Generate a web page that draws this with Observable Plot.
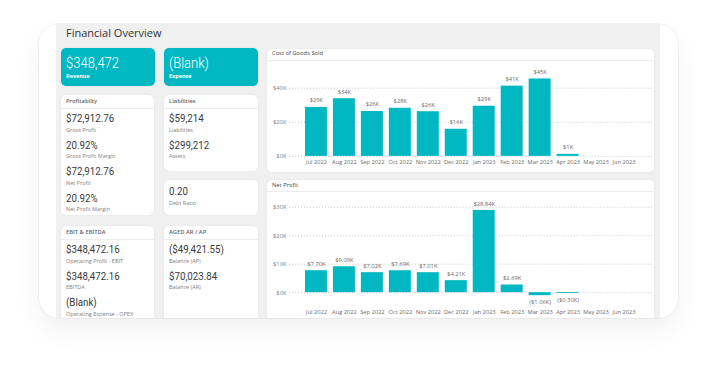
<!DOCTYPE html>
<html><head><meta charset="utf-8">
<script src="https://cdn.jsdelivr.net/npm/d3@7"></script>
<script src="https://cdn.jsdelivr.net/npm/@observablehq/plot@0.6"></script>
<style>
body{margin:0;width:717px;height:375px;background:#fff;position:relative;overflow:hidden;font-family:"Open Sans",sans-serif;}
#frame{position:absolute;left:39px;top:24px;width:639px;height:294px;border-radius:20px;background:#fff;box-shadow:0 0 0 0.7px rgba(0,0,0,0.06),0 12px 26px rgba(0,0,0,0.06);overflow:hidden;}
#panel{position:absolute;left:17px;top:0;width:604px;height:294px;background:#f0f0f0;overflow:hidden;}
.card{position:absolute;background:#fff;border-radius:5px;box-shadow:0 0 2px rgba(0,0,0,0.08);overflow:hidden;}
.teal{background:#01b8c2;}
.t{position:absolute;white-space:nowrap;transform:translateY(-50%);transform-origin:left center;line-height:1;}
.val{font-family:Roboto,sans-serif;font-size:11.3px;color:#3b3a39;transform:translateY(-50%) scaleX(0.86);}
.big{font-family:Roboto,sans-serif;font-weight:300;font-size:15.5px;color:#fff;transform:translateY(-50%) scaleX(0.84);}
.lab{font-size:5.5px;color:#808080;}
.wl{font-size:5.5px;color:#fff;font-weight:700;}
.hdr{font-size:5.8px;font-weight:600;color:#666;}
.chdr{font-size:5.8px;font-weight:500;color:#444;}
.sep{position:absolute;height:1px;background:#ededed;left:0;right:0;}
#title{position:absolute;left:10px;top:8px;font-size:11px;color:#333;transform:translateY(-50%);line-height:1;white-space:nowrap;}
.plot{position:absolute;left:0;}
</style></head>
<body>
<div id="frame"><div id="panel"><div id="title">Financial Overview</div></div></div>
<script>
// ---- data ----
const months = ["Jul 2022","Aug 2022","Sep 2022","Oct 2022","Nov 2022","Dec 2022","Jan 2023","Feb 2023","Mar 2023","Apr 2023","May 2023","Jun 2023"];
const cogsValues = [28700, 33800, 26300, 28200, 26200, 15900, 29400, 41200, 45400, 1200, null, null];
const netProfitValues = [7700, 9090, 7020, 7690, 7010, 4210, 28840, 2690, -1060, -300, null, null];
const cogsTicks = [0, 20000, 40000];
const netTicks = [0, 10000, 20000, 30000];

const topTiles = [["$348,472","Revenue"],["(Blank)","Expense"]];
const profitability = [["$72,912.76","Gross Profit"],["20.92%","Gross Profit Margin"],["$72,912.76","Net Profit"],["20.92%","Net Profit Margin"]];
const liabilities = [["$59,214","Liabilities"],["$299,212","Assets"]];
const debtRatio = [["0.20","Debt Ratio"]];
const ebitda = [["$348,472.16","Operating Profit - EBIT"],["$348,472.16","EBITDA"],["(Blank)","Operating Expense - OPEX"]];
const agedArAp = [["($49,421.55)","Balance (AP)"],["$70,023.84","Balance (AR)"]];

const teal = "#01b8c2";
const panel = document.getElementById("panel");

function card(left, top, w, h, cls) {
  const c = document.createElement("div");
  c.className = "card" + (cls ? " " + cls : "");
  Object.assign(c.style, {left: left + "px", top: top + "px", width: w + "px", height: h + "px"});
  panel.appendChild(c);
  return c;
}
function txt(parent, cls, s, x, cy) {
  const e = document.createElement("div");
  e.className = "t " + cls;
  e.textContent = s;
  e.style.left = x + "px"; e.style.top = cy + "px";
  parent.appendChild(e);
  return e;
}
function header(c, s) {
  txt(c, "hdr", s, 5, 7);
  const l = document.createElement("div"); l.className = "sep"; l.style.top = "13px"; c.appendChild(l);
}
function rows(c, items, start) {
  items.forEach(([v, l], i) => {
    txt(c, "val", v, 5, start + 26.5 * i);
    txt(c, "lab", l, 5, start + 26.5 * i + 11.5);
  });
}

// top tiles
const t1 = card(5, 24, 94, 38, "teal");
txt(t1, "big", topTiles[0][0], 5, 16.3); txt(t1, "wl", topTiles[0][1], 5, 28.7);
const t2 = card(108, 24, 94, 38, "teal");
txt(t2, "big", topTiles[1][0], 5, 16.3); txt(t2, "wl", topTiles[1][1], 5, 28.7);

const c1 = card(5, 71, 93, 120); header(c1, "Profitabilty"); rows(c1, profitability, 24.3);
const c2 = card(108, 71, 94, 76); header(c2, "Liabilities"); rows(c2, liabilities, 24.3);
const c3 = card(108, 156, 94, 35); rows(c3, debtRatio, 12);
const c4 = card(5, 202, 93, 110); header(c4, "EBIT & EBITDA"); rows(c4, ebitda, 24);
const c5 = card(108, 202, 94, 110); header(c5, "AGED AR / AP"); rows(c5, agedArAp, 24);

// chart cards
const g1 = card(210.7, 24.5, 387.5, 123);
txt(g1, "chdr", "Cost of Goods Sold", 5.3, 5.5);
{const l = document.createElement("div"); l.className = "sep"; l.style.top = "11px"; g1.appendChild(l);}
const g2 = card(210.7, 156, 387.5, 150);
txt(g2, "chdr", "Net Profit", 5.3, 5.7);
{const l = document.createElement("div"); l.className = "sep"; l.style.top = "11px"; g2.appendChild(l);}

const cogsData = months.map((m, i) => ({month: m, value: cogsValues[i]})).filter(d => d.value != null);
const netData = months.map((m, i) => ({month: m, value: netProfitValues[i]})).filter(d => d.value != null);

const fmtK0 = v => "$" + Math.round(v / 1000) + "K";
const fmtK2 = v => v >= 0 ? "$" + (v / 1000).toFixed(2) + "K" : "($" + (-v / 1000).toFixed(2) + "K)";
const svgStyle = {background: "transparent", fontFamily: "Open Sans, sans-serif", fontSize: "6px", overflow: "visible"};

const p1 = Plot.plot({
  width: 388, height: 108, marginLeft: 22, marginRight: 2, marginTop: 0, marginBottom: 14,
  style: svgStyle,
  x: {domain: months, range: [28.8, 377.7], padding: 0.2, label: null},
  y: {domain: [0, 40000], range: [94, 25.7], label: null},
  marks: [
    Plot.gridY(cogsTicks, {stroke: "#c8c8c8", strokeOpacity: 1, strokeDasharray: "1,2"}),
    Plot.axisY(cogsTicks, {tickSize: 0, tickPadding: 3, tickFormat: d => "$" + d / 1000 + "K", fontSize: 5.8, color: "#808080", label: null}),
    Plot.axisX({tickSize: 0, tickPadding: 4, fontSize: 5.7, color: "#6a6a6a", label: null}),
    Plot.barY(cogsData, {x: "month", y: "value", fill: teal}),
    Plot.text(cogsData, {x: "month", y: "value", text: d => fmtK0(d.value), dy: -7, fontSize: 5.8, fill: "#6a6a6a"})
  ]
});
p1.classList.add("plot"); p1.style.top = "13px"; p1.style.position = "absolute";
g1.appendChild(p1);

const p2 = Plot.plot({
  width: 388, height: 126, marginLeft: 22, marginRight: 2, marginTop: 0, marginBottom: 12,
  style: svgStyle,
  x: {domain: months, range: [28.8, 377.7], padding: 0.2, label: null},
  y: {domain: [0, 30000], range: [100.3, 14.7], label: null},
  marks: [
    Plot.gridY(netTicks, {stroke: "#c8c8c8", strokeOpacity: 1, strokeDasharray: "1,2"}),
    Plot.axisY(netTicks, {tickSize: 0, tickPadding: 3, tickFormat: d => "$" + d / 1000 + "K", fontSize: 5.8, color: "#808080", label: null}),
    Plot.axisX({tickSize: 0, tickPadding: 3.5, fontSize: 5.7, color: "#6a6a6a", label: null}),
    Plot.barY(netData, {x: "month", y: "value", fill: teal}),
    Plot.text(netData.filter(d => d.value >= 0), {x: "month", y: "value", text: d => fmtK2(d.value), dy: -6.5, fontSize: 5.8, fill: "#6a6a6a"}),
    Plot.text(netData.filter(d => d.value < 0), {x: "month", y: "value", text: d => fmtK2(d.value), dy: 6.5, fontSize: 5.8, fill: "#6a6a6a"})
  ]
});
p2.classList.add("plot"); p2.style.top = "12px"; p2.style.position = "absolute";
g2.appendChild(p2);
</script>
</body></html>
